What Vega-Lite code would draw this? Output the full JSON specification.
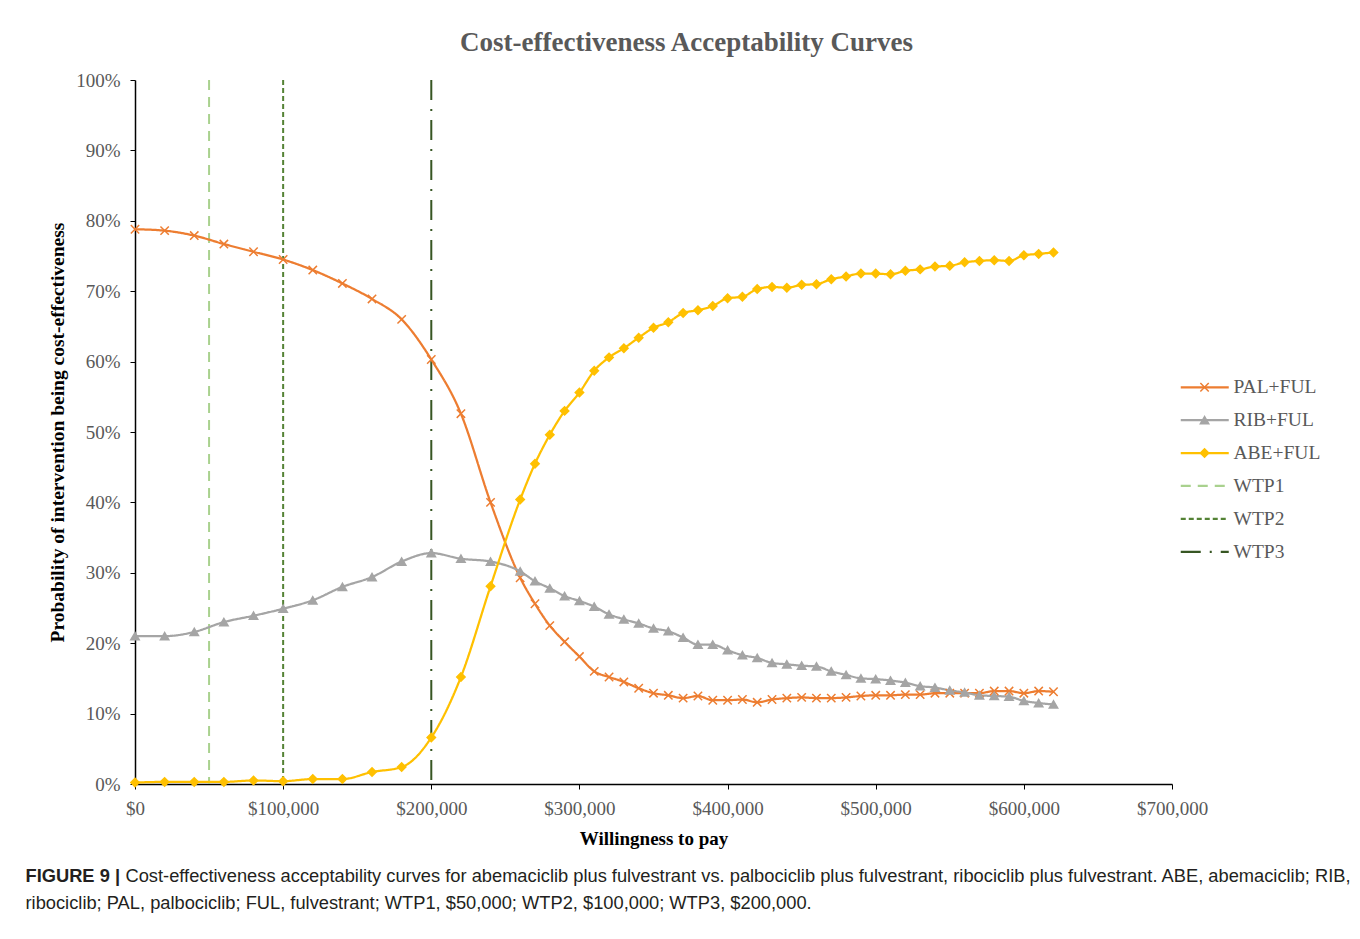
{
  "$schema": "https://vega.github.io/schema/vega-lite/v6.json",
  "width": 1037,
  "height": 704,
  "autosize": {"type": "none"},
  "padding": {"left": 135, "top": 80, "right": 188, "bottom": 155},
  "background": "white",
  "config": {"view": {"stroke": null}, "axis": {"grid": false}},
  "title": {"text": "Cost-effectiveness Acceptability Curves", "font": "Liberation Serif", "fontSize": 27, "fontWeight": "bold", "color": "#595959", "anchor": "middle", "dx": 33, "dy": 37, "offset": 24, "baseline": "bottom"},
  "datasets": {
    "wtp": [
      {"wtp": 50000, "series": "WTP1"},
      {"wtp": 100000, "series": "WTP2"},
      {"wtp": 200000, "series": "WTP3"}
    ],
    "curves": [
      {"wtp": 0, "series": "PAL+FUL", "prob": 78.8},
      {"wtp": 20000, "series": "PAL+FUL", "prob": 78.6},
      {"wtp": 40000, "series": "PAL+FUL", "prob": 77.9},
      {"wtp": 60000, "series": "PAL+FUL", "prob": 76.7},
      {"wtp": 80000, "series": "PAL+FUL", "prob": 75.6},
      {"wtp": 100000, "series": "PAL+FUL", "prob": 74.5},
      {"wtp": 120000, "series": "PAL+FUL", "prob": 73.0},
      {"wtp": 140000, "series": "PAL+FUL", "prob": 71.1},
      {"wtp": 160000, "series": "PAL+FUL", "prob": 68.9},
      {"wtp": 180000, "series": "PAL+FUL", "prob": 66.0},
      {"wtp": 200000, "series": "PAL+FUL", "prob": 60.3},
      {"wtp": 220000, "series": "PAL+FUL", "prob": 52.6},
      {"wtp": 240000, "series": "PAL+FUL", "prob": 40.0},
      {"wtp": 260000, "series": "PAL+FUL", "prob": 29.3},
      {"wtp": 270000, "series": "PAL+FUL", "prob": 25.6},
      {"wtp": 280000, "series": "PAL+FUL", "prob": 22.5},
      {"wtp": 290000, "series": "PAL+FUL", "prob": 20.2},
      {"wtp": 300000, "series": "PAL+FUL", "prob": 18.1},
      {"wtp": 310000, "series": "PAL+FUL", "prob": 16.0},
      {"wtp": 320000, "series": "PAL+FUL", "prob": 15.2},
      {"wtp": 330000, "series": "PAL+FUL", "prob": 14.5},
      {"wtp": 340000, "series": "PAL+FUL", "prob": 13.6},
      {"wtp": 350000, "series": "PAL+FUL", "prob": 12.9},
      {"wtp": 360000, "series": "PAL+FUL", "prob": 12.6},
      {"wtp": 370000, "series": "PAL+FUL", "prob": 12.2},
      {"wtp": 380000, "series": "PAL+FUL", "prob": 12.5},
      {"wtp": 390000, "series": "PAL+FUL", "prob": 11.9},
      {"wtp": 400000, "series": "PAL+FUL", "prob": 11.9},
      {"wtp": 410000, "series": "PAL+FUL", "prob": 12.0},
      {"wtp": 420000, "series": "PAL+FUL", "prob": 11.6},
      {"wtp": 430000, "series": "PAL+FUL", "prob": 12.0},
      {"wtp": 440000, "series": "PAL+FUL", "prob": 12.2},
      {"wtp": 450000, "series": "PAL+FUL", "prob": 12.3},
      {"wtp": 460000, "series": "PAL+FUL", "prob": 12.2},
      {"wtp": 470000, "series": "PAL+FUL", "prob": 12.2},
      {"wtp": 480000, "series": "PAL+FUL", "prob": 12.3},
      {"wtp": 490000, "series": "PAL+FUL", "prob": 12.5},
      {"wtp": 500000, "series": "PAL+FUL", "prob": 12.6},
      {"wtp": 510000, "series": "PAL+FUL", "prob": 12.6},
      {"wtp": 520000, "series": "PAL+FUL", "prob": 12.7},
      {"wtp": 530000, "series": "PAL+FUL", "prob": 12.7},
      {"wtp": 540000, "series": "PAL+FUL", "prob": 12.9},
      {"wtp": 550000, "series": "PAL+FUL", "prob": 12.9},
      {"wtp": 560000, "series": "PAL+FUL", "prob": 12.9},
      {"wtp": 570000, "series": "PAL+FUL", "prob": 12.9},
      {"wtp": 580000, "series": "PAL+FUL", "prob": 13.2},
      {"wtp": 590000, "series": "PAL+FUL", "prob": 13.2},
      {"wtp": 600000, "series": "PAL+FUL", "prob": 12.9},
      {"wtp": 610000, "series": "PAL+FUL", "prob": 13.2},
      {"wtp": 620000, "series": "PAL+FUL", "prob": 13.1},
      {"wtp": 0, "series": "RIB+FUL", "prob": 21.0},
      {"wtp": 20000, "series": "RIB+FUL", "prob": 21.0},
      {"wtp": 40000, "series": "RIB+FUL", "prob": 21.6},
      {"wtp": 60000, "series": "RIB+FUL", "prob": 23.0},
      {"wtp": 80000, "series": "RIB+FUL", "prob": 23.9},
      {"wtp": 100000, "series": "RIB+FUL", "prob": 24.9},
      {"wtp": 120000, "series": "RIB+FUL", "prob": 26.1},
      {"wtp": 140000, "series": "RIB+FUL", "prob": 28.0},
      {"wtp": 160000, "series": "RIB+FUL", "prob": 29.4},
      {"wtp": 180000, "series": "RIB+FUL", "prob": 31.6},
      {"wtp": 200000, "series": "RIB+FUL", "prob": 32.8},
      {"wtp": 220000, "series": "RIB+FUL", "prob": 32.0},
      {"wtp": 240000, "series": "RIB+FUL", "prob": 31.6},
      {"wtp": 260000, "series": "RIB+FUL", "prob": 30.2},
      {"wtp": 270000, "series": "RIB+FUL", "prob": 28.8},
      {"wtp": 280000, "series": "RIB+FUL", "prob": 27.8},
      {"wtp": 290000, "series": "RIB+FUL", "prob": 26.7},
      {"wtp": 300000, "series": "RIB+FUL", "prob": 26.0},
      {"wtp": 310000, "series": "RIB+FUL", "prob": 25.2},
      {"wtp": 320000, "series": "RIB+FUL", "prob": 24.1},
      {"wtp": 330000, "series": "RIB+FUL", "prob": 23.4},
      {"wtp": 340000, "series": "RIB+FUL", "prob": 22.8},
      {"wtp": 350000, "series": "RIB+FUL", "prob": 22.1},
      {"wtp": 360000, "series": "RIB+FUL", "prob": 21.7},
      {"wtp": 370000, "series": "RIB+FUL", "prob": 20.8},
      {"wtp": 380000, "series": "RIB+FUL", "prob": 19.8},
      {"wtp": 390000, "series": "RIB+FUL", "prob": 19.8},
      {"wtp": 400000, "series": "RIB+FUL", "prob": 19.0},
      {"wtp": 410000, "series": "RIB+FUL", "prob": 18.3},
      {"wtp": 420000, "series": "RIB+FUL", "prob": 17.9},
      {"wtp": 430000, "series": "RIB+FUL", "prob": 17.2},
      {"wtp": 440000, "series": "RIB+FUL", "prob": 17.0},
      {"wtp": 450000, "series": "RIB+FUL", "prob": 16.8},
      {"wtp": 460000, "series": "RIB+FUL", "prob": 16.7},
      {"wtp": 470000, "series": "RIB+FUL", "prob": 16.0},
      {"wtp": 480000, "series": "RIB+FUL", "prob": 15.5},
      {"wtp": 490000, "series": "RIB+FUL", "prob": 15.0},
      {"wtp": 500000, "series": "RIB+FUL", "prob": 14.9},
      {"wtp": 510000, "series": "RIB+FUL", "prob": 14.7},
      {"wtp": 520000, "series": "RIB+FUL", "prob": 14.4},
      {"wtp": 530000, "series": "RIB+FUL", "prob": 13.9},
      {"wtp": 540000, "series": "RIB+FUL", "prob": 13.7},
      {"wtp": 550000, "series": "RIB+FUL", "prob": 13.3},
      {"wtp": 560000, "series": "RIB+FUL", "prob": 13.0},
      {"wtp": 570000, "series": "RIB+FUL", "prob": 12.6},
      {"wtp": 580000, "series": "RIB+FUL", "prob": 12.5},
      {"wtp": 590000, "series": "RIB+FUL", "prob": 12.4},
      {"wtp": 600000, "series": "RIB+FUL", "prob": 11.8},
      {"wtp": 610000, "series": "RIB+FUL", "prob": 11.5},
      {"wtp": 620000, "series": "RIB+FUL", "prob": 11.3},
      {"wtp": 0, "series": "ABE+FUL", "prob": 0.2},
      {"wtp": 20000, "series": "ABE+FUL", "prob": 0.3},
      {"wtp": 40000, "series": "ABE+FUL", "prob": 0.3},
      {"wtp": 60000, "series": "ABE+FUL", "prob": 0.3},
      {"wtp": 80000, "series": "ABE+FUL", "prob": 0.5},
      {"wtp": 100000, "series": "ABE+FUL", "prob": 0.4},
      {"wtp": 120000, "series": "ABE+FUL", "prob": 0.7},
      {"wtp": 140000, "series": "ABE+FUL", "prob": 0.7},
      {"wtp": 160000, "series": "ABE+FUL", "prob": 1.7},
      {"wtp": 180000, "series": "ABE+FUL", "prob": 2.4},
      {"wtp": 200000, "series": "ABE+FUL", "prob": 6.6},
      {"wtp": 220000, "series": "ABE+FUL", "prob": 15.2},
      {"wtp": 240000, "series": "ABE+FUL", "prob": 28.1},
      {"wtp": 260000, "series": "ABE+FUL", "prob": 40.4},
      {"wtp": 270000, "series": "ABE+FUL", "prob": 45.5},
      {"wtp": 280000, "series": "ABE+FUL", "prob": 49.6},
      {"wtp": 290000, "series": "ABE+FUL", "prob": 53.0},
      {"wtp": 300000, "series": "ABE+FUL", "prob": 55.6},
      {"wtp": 310000, "series": "ABE+FUL", "prob": 58.7},
      {"wtp": 320000, "series": "ABE+FUL", "prob": 60.6},
      {"wtp": 330000, "series": "ABE+FUL", "prob": 61.9},
      {"wtp": 340000, "series": "ABE+FUL", "prob": 63.4},
      {"wtp": 350000, "series": "ABE+FUL", "prob": 64.8},
      {"wtp": 360000, "series": "ABE+FUL", "prob": 65.6},
      {"wtp": 370000, "series": "ABE+FUL", "prob": 66.9},
      {"wtp": 380000, "series": "ABE+FUL", "prob": 67.3},
      {"wtp": 390000, "series": "ABE+FUL", "prob": 67.9},
      {"wtp": 400000, "series": "ABE+FUL", "prob": 69.0},
      {"wtp": 410000, "series": "ABE+FUL", "prob": 69.2},
      {"wtp": 420000, "series": "ABE+FUL", "prob": 70.3},
      {"wtp": 430000, "series": "ABE+FUL", "prob": 70.6},
      {"wtp": 440000, "series": "ABE+FUL", "prob": 70.5},
      {"wtp": 450000, "series": "ABE+FUL", "prob": 70.9},
      {"wtp": 460000, "series": "ABE+FUL", "prob": 71.0},
      {"wtp": 470000, "series": "ABE+FUL", "prob": 71.7},
      {"wtp": 480000, "series": "ABE+FUL", "prob": 72.1},
      {"wtp": 490000, "series": "ABE+FUL", "prob": 72.5},
      {"wtp": 500000, "series": "ABE+FUL", "prob": 72.5},
      {"wtp": 510000, "series": "ABE+FUL", "prob": 72.4},
      {"wtp": 520000, "series": "ABE+FUL", "prob": 72.9},
      {"wtp": 530000, "series": "ABE+FUL", "prob": 73.1},
      {"wtp": 540000, "series": "ABE+FUL", "prob": 73.5},
      {"wtp": 550000, "series": "ABE+FUL", "prob": 73.6},
      {"wtp": 560000, "series": "ABE+FUL", "prob": 74.1},
      {"wtp": 570000, "series": "ABE+FUL", "prob": 74.3},
      {"wtp": 580000, "series": "ABE+FUL", "prob": 74.4},
      {"wtp": 590000, "series": "ABE+FUL", "prob": 74.3},
      {"wtp": 600000, "series": "ABE+FUL", "prob": 75.1},
      {"wtp": 610000, "series": "ABE+FUL", "prob": 75.3},
      {"wtp": 620000, "series": "ABE+FUL", "prob": 75.5}
    ]
  },
  "resolve": {"scale": {"x": "independent"}},
  "layer": [
    {
      "layer": [
        {
          "data": {"name": "wtp"},
          "mark": {"type": "rule", "strokeWidth": 2},
          "encoding": {
            "x": {"field": "wtp", "type": "quantitative", "scale": {"domain": [0, 700000], "nice": false},
              "axis": {"title": "Willingness  to pay", "values": [0, 100000, 200000, 300000, 400000, 500000, 600000, 700000], "format": "$,d", "labelFlush": false, "labelFont": "Liberation Serif", "labelFontSize": 19, "labelColor": "#595959", "labelPadding": 10, "tickSize": 5, "tickColor": "#000000", "domainColor": "#000000", "domainWidth": 1.5, "titleFont": "Liberation Serif", "titleFontSize": 19, "titleFontWeight": "bold", "titleColor": "#000000", "titleY": 54, "titleBaseline": "middle"}},
            "color": {"field": "series", "type": "nominal",
              "scale": {"domain": ["PAL+FUL", "RIB+FUL", "ABE+FUL", "WTP1", "WTP2", "WTP3"], "range": ["#ED7D31", "#A5A5A5", "#FFC000", "#A9D18E", "#548235", "#375623"]},
              "legend": {"orient": "none", "legendX": 1060, "legendY": 297.5, "title": null, "symbolType": "M-6,0L6,0", "symbolSize": 64, "symbolStrokeWidth": 2.25, "labelOffset": 19, "labelFont": "Liberation Serif", "labelFontSize": 19.5, "labelColor": "#595959", "rowPadding": 11.9, "padding": 0}},
            "strokeDash": {"field": "series", "type": "nominal",
              "scale": {"domain": ["PAL+FUL", "RIB+FUL", "ABE+FUL", "WTP1", "WTP2", "WTP3"], "range": [[1, 0], [1, 0], [1, 0], [10, 7], [5, 3], [20, 9, 2, 9]]},
              "legend": {"orient": "none", "legendX": 1060, "legendY": 297.5, "title": null, "symbolType": "M-6,0L6,0", "symbolSize": 64, "symbolStrokeWidth": 2.25, "labelOffset": 19, "labelFont": "Liberation Serif", "labelFontSize": 19.5, "labelColor": "#595959", "rowPadding": 11.9, "padding": 0}}
          }
        },
        {
          "data": {"name": "curves"},
          "mark": {"type": "line", "strokeWidth": 2.25, "interpolate": "monotone"},
          "encoding": {
            "x": {"field": "wtp", "type": "quantitative", "scale": {"domain": [0, 700000], "nice": false},
              "axis": {"title": "Willingness  to pay", "values": [0, 100000, 200000, 300000, 400000, 500000, 600000, 700000], "format": "$,d", "labelFlush": false, "labelFont": "Liberation Serif", "labelFontSize": 19, "labelColor": "#595959", "labelPadding": 10, "tickSize": 5, "tickColor": "#000000", "domainColor": "#000000", "domainWidth": 1.5, "titleFont": "Liberation Serif", "titleFontSize": 19, "titleFontWeight": "bold", "titleColor": "#000000", "titleY": 54, "titleBaseline": "middle"}},
            "y": {"field": "prob", "type": "quantitative", "scale": {"domain": [0, 100], "nice": false},
              "axis": {"title": "Probability of intervention being cost-effectiveness", "values": [0, 10, 20, 30, 40, 50, 60, 70, 80, 90, 100], "labelExpr": "datum.value + '%'", "labelFont": "Liberation Serif", "labelFontSize": 19, "labelColor": "#595959", "labelPadding": 10, "tickSize": 5, "tickColor": "#000000", "domainColor": "#000000", "domainWidth": 1.5, "titleFont": "Liberation Serif", "titleFontSize": 19.5, "titleFontWeight": "bold", "titleColor": "#000000", "titleX": -78, "titleY": 352, "titleAngle": -90, "titleBaseline": "middle", "titleAlign": "center"}},
            "color": {"field": "series", "type": "nominal"},
            "strokeDash": {"field": "series", "type": "nominal"}
          }
        },
        {
          "data": {"name": "curves"},
          "mark": {"type": "point", "size": 70, "strokeWidth": 1.5, "opacity": 1, "filled": true},
          "encoding": {
            "x": {"field": "wtp", "type": "quantitative"},
            "y": {"field": "prob", "type": "quantitative"},
            "shape": {"field": "series", "type": "nominal",
              "scale": {"domain": ["PAL+FUL", "RIB+FUL", "ABE+FUL"], "range": ["M-1,-1L1,1M-1,1L1,-1", "triangle-up", "diamond"]},
              "legend": {"orient": "none", "legendX": 1059.8, "legendY": 297.5, "title": null, "symbolSize": 70, "symbolStrokeWidth": 1.5, "labelExpr": "''", "labelFont": "Liberation Serif", "labelFontSize": 19.5, "labelColor": "#595959", "rowPadding": 11.9, "padding": 0}},
            "fill": {"field": "series", "type": "nominal",
              "scale": {"domain": ["PAL+FUL", "RIB+FUL", "ABE+FUL"], "range": ["transparent", "#A5A5A5", "#FFC000"]},
              "legend": {"orient": "none", "legendX": 1059.8, "legendY": 297.5, "title": null, "symbolSize": 70, "symbolStrokeWidth": 1.5, "labelExpr": "''", "labelFont": "Liberation Serif", "labelFontSize": 19.5, "labelColor": "#595959", "rowPadding": 11.9, "padding": 0}},
            "stroke": {"field": "series", "type": "nominal",
              "scale": {"domain": ["PAL+FUL", "RIB+FUL", "ABE+FUL"], "range": ["#ED7D31", "#A5A5A5", "#FFC000"]},
              "legend": {"orient": "none", "legendX": 1059.8, "legendY": 297.5, "title": null, "symbolSize": 70, "symbolStrokeWidth": 1.5, "labelExpr": "''", "labelFont": "Liberation Serif", "labelFontSize": 19.5, "labelColor": "#595959", "rowPadding": 11.9, "padding": 0}}
          }
        }
      ]
    },
    {
      "data": {"values": [{"c": 0}]},
      "mark": {"type": "rule", "opacity": 0},
      "encoding": {
        "x": {"field": "c", "type": "quantitative", "scale": {"domain": [0, 1]},
          "axis": {"orient": "bottom", "domain": false, "ticks": false, "labels": false, "grid": false, "title": "FIGURE 9 |", "titleX": -110, "titleY": 92, "titleAlign": "left", "titleAnchor": "start", "titleBaseline": "middle", "titleFont": "Liberation Sans", "titleFontSize": 18.3, "titleFontWeight": "bold", "titleColor": "#231F20"}}
      }
    },
    {
      "data": {"values": [{"c": 0}]},
      "mark": {"type": "rule", "opacity": 0},
      "encoding": {
        "x": {"field": "c", "type": "quantitative", "scale": {"domain": [0, 1]},
          "axis": {"orient": "bottom", "domain": false, "ticks": false, "labels": false, "grid": false, "title": "Cost-effectiveness acceptability curves for abemaciclib plus fulvestrant vs. palbociclib plus fulvestrant, ribociclib plus fulvestrant. ABE, abemaciclib; RIB,", "titleX": -10, "titleY": 92, "titleAlign": "left", "titleAnchor": "start", "titleBaseline": "middle", "titleFont": "Liberation Sans", "titleFontSize": 18.3, "titleFontWeight": "normal", "titleColor": "#231F20"}}
      }
    },
    {
      "data": {"values": [{"c": 0}]},
      "mark": {"type": "rule", "opacity": 0},
      "encoding": {
        "x": {"field": "c", "type": "quantitative", "scale": {"domain": [0, 1]},
          "axis": {"orient": "bottom", "domain": false, "ticks": false, "labels": false, "grid": false, "title": "ribociclib; PAL, palbociclib; FUL, fulvestrant; WTP1, $50,000; WTP2, $100,000; WTP3, $200,000.", "titleX": -110, "titleY": 119, "titleAlign": "left", "titleAnchor": "start", "titleBaseline": "middle", "titleFont": "Liberation Sans", "titleFontSize": 18.3, "titleFontWeight": "normal", "titleColor": "#231F20"}}
      }
    }
  ]
}
